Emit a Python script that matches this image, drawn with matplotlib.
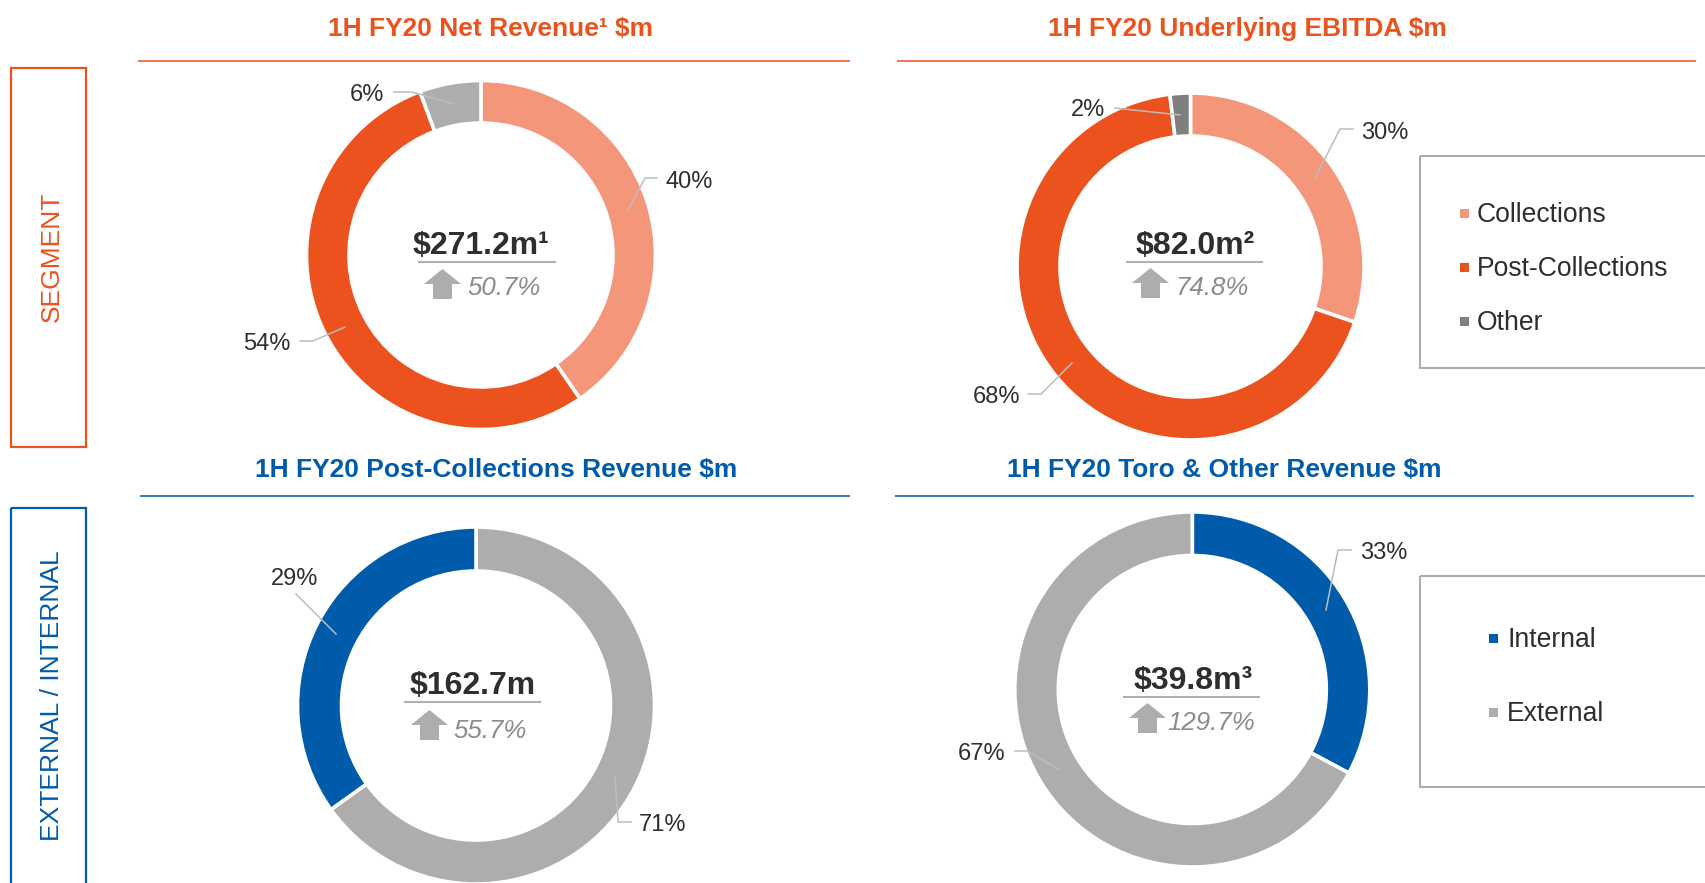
import matplotlib
matplotlib.use("Agg")
import matplotlib.pyplot as plt
from matplotlib.patches import Rectangle, Polygon

plt.rcParams['font.family'] = ['Liberation Sans', 'DejaVu Sans']

# ---- data ----
segment_names = ["Collections", "Post-Collections", "Other"]
split_names = ["Internal", "External"]

net_revenue_values = [40.4, 53.9, 5.7]
net_revenue_labels = ["40%", "54%", "6%"]
ebitda_values = [30.2, 67.9, 1.9]
ebitda_labels = ["30%", "68%", "2%"]
post_coll_values = [65.1, 34.9]
post_coll_labels = ["71%", "29%"]
toro_values = [32.8, 67.2]
toro_labels = ["33%", "67%"]

titles = ["1H FY20 Net Revenue¹ $m", "1H FY20 Underlying EBITDA $m",
          "1H FY20 Post-Collections Revenue $m", "1H FY20 Toro & Other Revenue $m"]
totals = ["$271.2m¹", "$82.0m²", "$162.7m", "$39.8m³"]
growth = ["50.7%", "74.8%", "55.7%", "129.7%"]

# ---- style / layout (pixels of the 1705x883 canvas) ----
W, H = 1705, 883
ORANGE, SALMON, BLUE = "#EB521E", "#F4967A", "#005BAA"
GREY, DARKGREY, LINE = "#ADADAD", "#7F7F7F", "#BDBDBD"
TEXT, GTEXT = "#2E2E2E", "#8C8C8C"

fig = plt.figure(figsize=(W / 100, H / 100), dpi=100, facecolor="white")


def donut(cx, cy, R, r, values, colors):
    R += 1.5
    r -= 1.5
    ax = fig.add_axes([(cx - R) / W, 1 - (cy + R) / H, 2 * R / W, 2 * R / H])
    ax.pie(values, colors=colors, startangle=90, counterclock=False, radius=1,
           wedgeprops=dict(width=1 - r / R, edgecolor="white", linewidth=2.6))
    ax.set_xlim(-1, 1)
    ax.set_ylim(-1, 1)
    ax.set_aspect("equal")
    ax.set_axis_off()


donut(481, 255, 173, 133.5, net_revenue_values, [SALMON, ORANGE, GREY])
donut(1190.5, 266.5, 172, 132, ebitda_values, [SALMON, ORANGE, DARKGREY])
donut(476, 705.5, 177, 136, post_coll_values, [GREY, BLUE])
donut(1192.3, 689.5, 176, 135.5, toro_values, [BLUE, GREY])

ov = fig.add_axes([0, 0, 1, 1], zorder=5)
ov.set_xlim(0, W)
ov.set_ylim(H, 0)
ov.set_axis_off()
ov.patch.set_alpha(0)

# titles and rules
title_fs = 19
for (tx, ty, x0, x1, ly, c), t in zip(
        [(491, 29, 138, 850, 60.5, ORANGE), (1247, 29, 897, 1696, 60.5, ORANGE),
         (496, 470, 140, 850, 496, BLUE), (1224, 470, 895, 1694, 496, BLUE)], titles):
    ov.text(tx, ty, t, color=c, fontsize=title_fs, fontweight="bold", ha="center", va="center")
    ov.plot([x0, x1], [ly, ly], color=c, lw=1.1, solid_capstyle="butt")

# side boxes
ov.add_patch(Rectangle((11, 68), 75, 379, fill=False, ec=ORANGE, lw=1.6))
ov.add_patch(Rectangle((11, 508), 75, 400, fill=False, ec=BLUE, lw=1.6, clip_on=True))
ov.text(52, 257, "SEGMENT", color=ORANGE, fontsize=19, rotation=90, ha="center", va="center")
ov.text(52, 696, "EXTERNAL / INTERNAL", color=BLUE, fontsize=19, rotation=90, ha="center", va="center")

# percent labels and leader lines
label_pos = [
    (net_revenue_labels, [(689, 182), (267, 344), (367, 95)]),
    (ebitda_labels, [(1385, 133), (996.5, 397), (1088, 110)]),
    (post_coll_labels, [(663, 825), (295, 579)]),
    (toro_labels, [(1384, 553), (982, 754)]),
]
for labs, pos in label_pos:
    for s, (x, y) in zip(labs, pos):
        ov.text(x, y, s, color=TEXT, fontsize=17, ha="center", va="center")

leaders = [
    [(657, 178), (645, 178), (628, 210)], [(394, 92), (412, 92), (454, 104)],
    [(300, 341), (313, 341), (345, 327)],
    [(1353, 129), (1340, 129), (1315, 178)], [(1115, 108), (1180, 115)],
    [(1028, 394), (1041, 394), (1072, 363)],
    [(296, 594), (336, 634)], [(631, 822), (618, 822), (615, 777)],
    [(1351, 550), (1338, 550), (1326, 610)], [(1015, 751), (1027, 751), (1058, 769)],
]
for pts in leaders:
    ov.plot(*zip(*pts), color=LINE, lw=1.1, solid_joinstyle="miter")

# centre blocks: total, divider, arrow, growth
centres = [
    (481, 246, 418, 556, 262, 424, 269, 504, 288),
    (1195, 246, 1126, 1263, 262, 1132, 268, 1212, 288),
    (473, 686, 404, 541, 702, 411, 710, 490, 731),
    (1193, 681, 1123, 1260, 697, 1129, 703, 1211, 723),
]
for (tx, ty, d0, d1, dy, ax0, ay0, gx, gy), tot, g in zip(centres, totals, growth):
    ov.text(tx, ty, tot, color=TEXT, fontsize=23, fontweight="bold", ha="center", va="center")
    ov.plot([d0, d1], [dy, dy], color=GREY, lw=1.4, solid_capstyle="butt")
    ov.add_patch(Polygon([(ax0 + 18.5, ay0), (ax0 + 37, ay0 + 15), (ax0 + 28, ay0 + 15), (ax0 + 28, ay0 + 30),
                          (ax0 + 9, ay0 + 30), (ax0 + 9, ay0 + 15), (ax0, ay0 + 15)], closed=True, fc=GREY, ec="none"))
    ov.text(gx, gy, g, color=GTEXT, fontsize=18.6, fontstyle="italic", ha="center", va="center")

# legend boxes
ov.add_patch(Rectangle((1420, 156), 400, 212, fill=False, ec=GREY, lw=1.5))
ov.add_patch(Rectangle((1420, 576), 400, 211, fill=False, ec=GREY, lw=1.5))
for name, col, y in zip(segment_names, [SALMON, ORANGE, DARKGREY], [213, 267, 321]):
    ov.add_patch(Rectangle((1460, y - 4.5), 9, 9, fc=col, ec="none"))
    ov.text(1477, y + 2, name, color=TEXT, fontsize=19.1, ha="left", va="center")
for name, col, y in zip(split_names, [BLUE, GREY], [638, 712]):
    ov.add_patch(Rectangle((1489, y - 4.5), 9, 9, fc=col, ec="none"))
    ov.text(1507, y + 2, name, color=TEXT, fontsize=19.1, ha="left", va="center")

fig.savefig("out.png", dpi=100, facecolor="white")
